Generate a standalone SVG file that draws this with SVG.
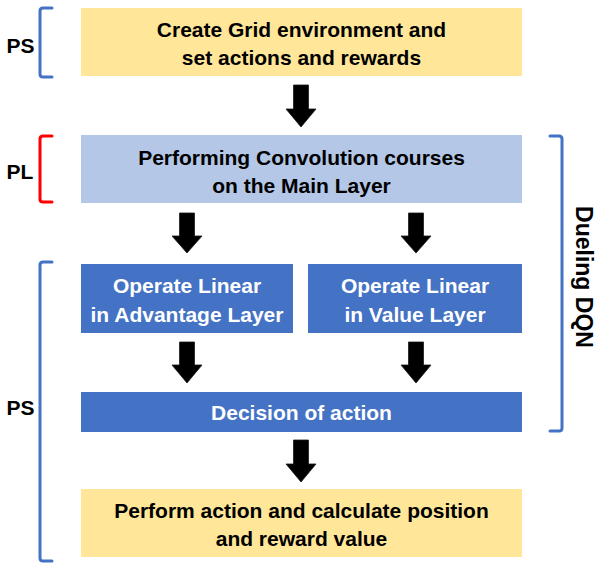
<svg xmlns="http://www.w3.org/2000/svg" width="596" height="564" viewBox="0 0 596 564">
<style>
.t{font-family:"Liberation Sans",Arial,sans-serif;font-weight:bold;font-size:21px;text-anchor:middle}
.dk{fill:#000}
.wh{fill:#fff}
.br{fill:none;stroke-width:3;stroke-linejoin:round;stroke-linecap:round}
.arr{fill:#000;stroke:#1a1a1a;stroke-width:0.8}
</style>
<rect width="596" height="564" fill="#fff"/>
<g id="bracket-ps-top">
<path class="br" stroke="#4472C4" d="M52,8 H43 Q40,8 40,11 V74 Q40,77 43,77 H52"/>
<text class="t dk" x="20.5" y="53">PS</text>
</g>
<g id="bracket-pl">
<path class="br" stroke="#FF0000" d="M52,136 H43 Q40,136 40,139 V199 Q40,202 43,202 H52"/>
<text class="t dk" x="20" y="179">PL</text>
</g>
<g id="bracket-ps-bottom">
<path class="br" stroke="#4472C4" d="M52,262 H43 Q40,262 40,265 V558 Q40,561 43,561 H52"/>
<text class="t dk" x="20.5" y="415">PS</text>
</g>
<g id="bracket-dueling">
<path class="br" stroke="#4472C4" d="M550,136 H559 Q562,136 562,139 V428 Q562,431 559,431 H550"/>
<text class="t dk" style="font-size:23px" transform="translate(576,277) rotate(90)">Dueling DQN</text>
</g>
<g id="node-create">
<rect x="81" y="8" width="441" height="68" fill="#FFE699"/>
<text class="t dk" x="301.5" y="37">Create Grid environment and</text>
<text class="t dk" x="301.5" y="65">set actions and rewards</text>
</g>
<g id="node-conv">
<rect x="81" y="135" width="441" height="68" fill="#B4C7E7"/>
<text class="t dk" x="301.5" y="165">Performing Convolution courses</text>
<text class="t dk" x="301.5" y="193">on the Main Layer</text>
</g>
<g id="node-advantage">
<rect x="81" y="264" width="212" height="69" fill="#4472C4"/>
<text class="t wh" x="187" y="293">Operate Linear</text>
<text class="t wh" x="187" y="322">in Advantage Layer</text>
</g>
<g id="node-value">
<rect x="308" y="264" width="214" height="69" fill="#4472C4"/>
<text class="t wh" x="415" y="293">Operate Linear</text>
<text class="t wh" x="415" y="322">in Value Layer</text>
</g>
<g id="node-decision">
<rect x="81" y="392" width="441" height="40" fill="#4472C4"/>
<text class="t wh" x="301.5" y="420">Decision of action</text>
</g>
<g id="node-perform">
<rect x="81" y="489" width="441" height="68" fill="#FFE699"/>
<text class="t dk" x="301.5" y="518">Perform action and calculate position</text>
<text class="t dk" x="301.5" y="546">and reward value</text>
</g>
<g id="connectors">
<path class="arr" d="M293.5,85 H308.5 V109 H316 L301,127 L286,109 H293.5 Z"/>
<path class="arr" d="M179.5,213 H194.5 V236 H202 L187,253 L172,236 H179.5 Z"/>
<path class="arr" d="M408.5,213 H423.5 V236 H431 L416,253 L401,236 H408.5 Z"/>
<path class="arr" d="M179.5,342 H194.5 V365 H202 L187,383 L172,365 H179.5 Z"/>
<path class="arr" d="M408.5,342 H423.5 V365 H431 L416,383 L401,365 H408.5 Z"/>
<path class="arr" d="M293.5,440 H308.5 V464 H316 L301,482 L286,464 H293.5 Z"/>
</g>
</svg>
